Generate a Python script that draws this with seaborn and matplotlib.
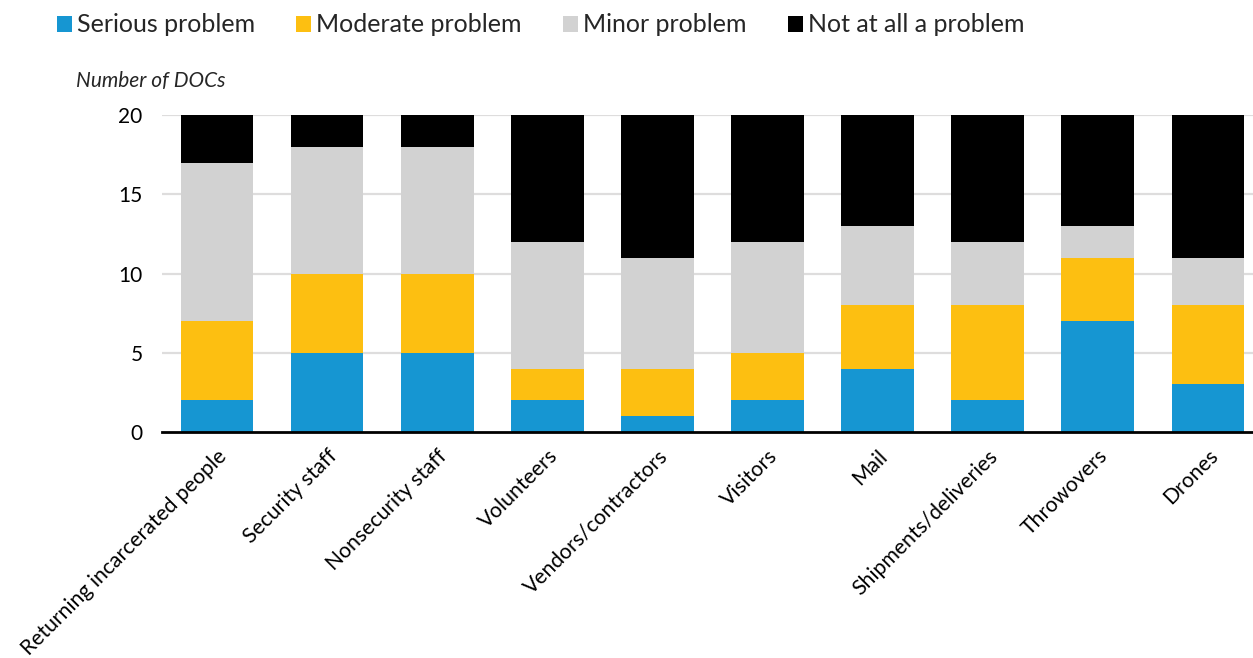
import numpy as np
import pandas as pd
import matplotlib
matplotlib.use("Agg")
import matplotlib.pyplot as plt
from matplotlib.patches import Patch
import seaborn as sns

categories = ["Returning incarcerated people", "Security staff", "Nonsecurity staff",
              "Volunteers", "Vendors/contractors", "Visitors", "Mail",
              "Shipments/deliveries", "Throwovers", "Drones"]
serious = [2, 5, 5, 2, 1, 2, 4, 2, 7, 3]
moderate = [5, 5, 5, 2, 3, 3, 4, 6, 4, 5]
minor = [10, 8, 8, 8, 7, 7, 5, 4, 2, 3]
not_at_all = [3, 2, 2, 8, 9, 8, 7, 8, 7, 9]

series_names = ["Serious problem", "Moderate problem", "Minor problem", "Not at all a problem"]
colors = ["#1696d2", "#fdbf11", "#d2d2d2", "#000000"]
yticks = [0, 5, 10, 15, 20]

sns.set_theme(style="white")
plt.rcParams["font.family"] = ["Lato", "DejaVu Sans"]

df = pd.DataFrame({"category": categories, "Serious problem": serious,
                   "Moderate problem": moderate, "Minor problem": minor,
                   "Not at all a problem": not_at_all})
cum = df[series_names].cumsum(axis=1)

fig = plt.figure(figsize=(12.53, 6.58), dpi=100)
ax = fig.add_axes([162 / 1253, 1 - 432 / 658, 1 - 162 / 1253, (432 - 115) / 658])

# Stacked bars: draw cumulative totals from the top segment down
for name, col in reversed(list(zip(series_names, colors))):
    sns.barplot(x=df["category"], y=cum[name], color=col, width=0.66,
                saturation=1, ax=ax, linewidth=0, zorder=3)

ax.set_ylim(0, 20)
ax.set_xlim(-0.5, 9.41)
ax.set_yticks(yticks)
ax.set_yticklabels([str(v) for v in yticks], fontsize=15, color="#000000")
ax.set_xlabel("")
ax.set_ylabel("")
ax.set_xticks(range(len(categories)))
ax.set_xticklabels(categories, rotation=45, ha="right", rotation_mode="anchor",
                   fontsize=15.2, color="#000000")
ax.tick_params(axis="x", length=0, pad=10)
ax.tick_params(axis="y", length=0, pad=14)

for y in yticks[1:]:
    ax.axhline(y, color="#dedddd", linewidth=1.6, zorder=1)
for s in ["top", "right", "left"]:
    ax.spines[s].set_visible(False)
ax.spines["bottom"].set_color("#000000")
ax.spines["bottom"].set_linewidth(2)
ax.spines["bottom"].set_zorder(5)

fig.text(76 / 1253, 1 - 81 / 658, "Number of DOCs", fontsize=15, style="italic",
         va="center", ha="left")

handles = [Patch(facecolor=c, edgecolor="none", label=n) for n, c in zip(series_names, colors)]
fig.legend(handles=handles, loc="center left", bbox_to_anchor=(47 / 1253, 1 - 25 / 658),
           ncol=4, frameon=False, fontsize=18, handlelength=0.6, handleheight=0.6,
           handletextpad=0.2, columnspacing=1.65, borderaxespad=0)

fig.savefig("out.png", dpi=100)
